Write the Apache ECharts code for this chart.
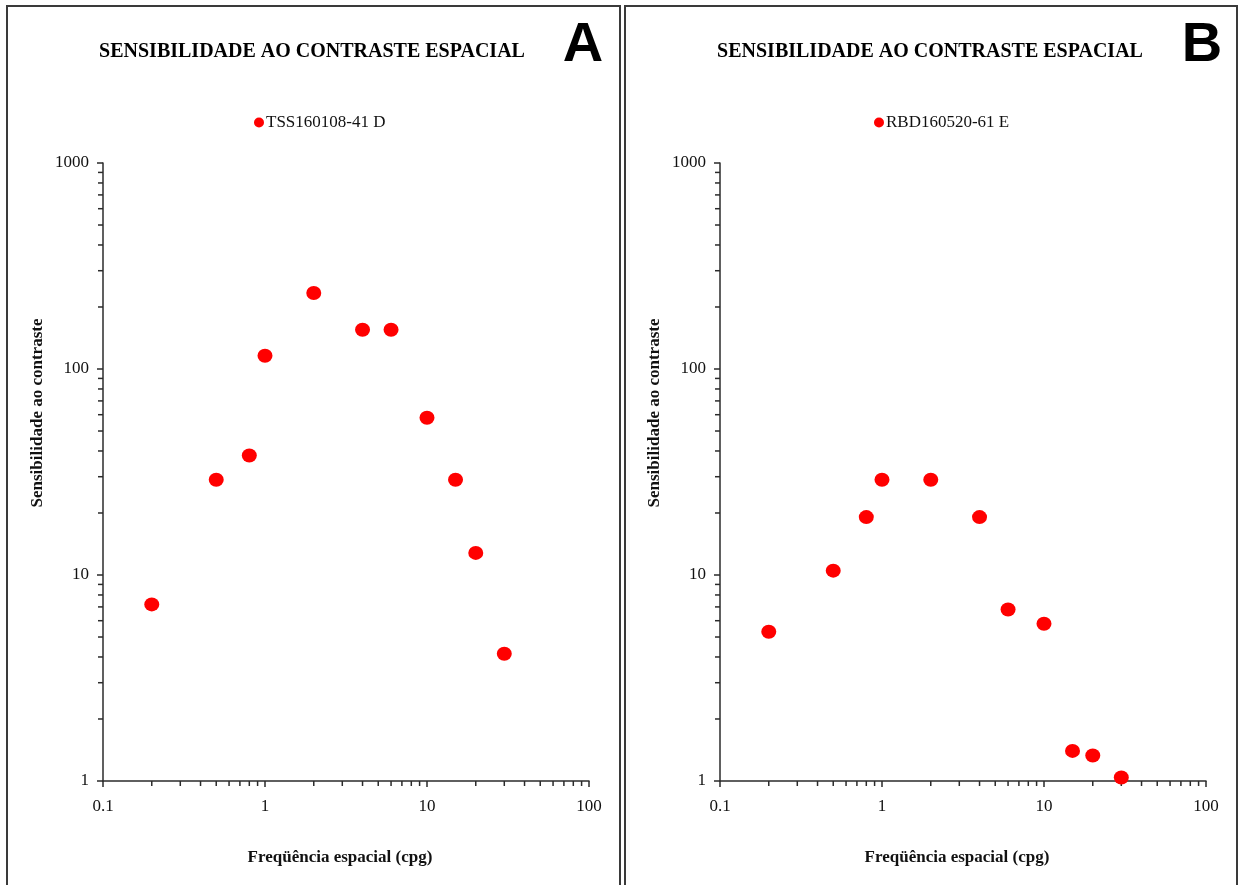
<!DOCTYPE html>
<html><head><meta charset="utf-8">
<script src="https://cdn.jsdelivr.net/npm/echarts@6/dist/echarts.min.js"></script>
<style>html,body{margin:0;padding:0;background:#fff}#c{width:1240px;height:885px}</style>
</head><body><div id="c"></div>
<script>
// ---- data ----
const titleText = 'SENSIBILIDADE AO CONTRASTE ESPACIAL';
const seriesNames = ['TSS160108-41 D', 'RBD160520-61 E'];
const panelLetters = ['A', 'B'];
const freqA = [0.2, 0.5, 0.8, 1, 2, 4, 6, 10, 15, 20, 30];
const sensA = [7.2, 29, 38, 116, 234, 155, 155, 58, 29, 12.8, 4.15];
const freqB = [0.2, 0.5, 0.8, 1, 2, 4, 6, 10, 15, 20, 30];
const sensB = [5.3, 10.5, 19.1, 29, 29, 19.1, 6.8, 5.8, 1.4, 1.33, 1.04];
const xName = 'Freqüência espacial (cpg)';
const yName = 'Sensibilidade ao contraste';
const xMinorTicks = [0.2,0.3,0.4,0.5,0.6,0.7,0.8,0.9,2,3,4,5,6,7,8,9,20,30,40,50,60,70,80,90];
const yMinorTicks = [2,3,4,5,6,7,8,9,20,30,40,50,60,70,80,90,200,300,400,500,600,700,800,900];

// ---- layout ----
const grids = [
  {left: 103, right: 651, top: 163, bottom: 104},
  {left: 720, right: 34, top: 163, bottom: 104}
];
const SERIF = '"Liberation Serif", "Times New Roman", serif';
const AX = '#2b2b2b';

const chart = echarts.init(document.getElementById('c'), null, {renderer: 'canvas'});

function fmt(v) { return String(+v.toPrecision(6)); }

function xAxisDef(i) {
  return {
    gridIndex: i, type: 'log', logBase: 10, min: 0.1, max: 100,
    axisLine: {show: true, lineStyle: {color: AX, width: 1.5}},
    axisTick: {show: true, inside: false, length: 6, lineStyle: {color: AX, width: 1.5}},
    axisLabel: {fontFamily: SERIF, fontSize: 17, color: '#111', margin: 17, formatter: fmt},
    splitLine: {show: false},
    name: xName, nameLocation: 'middle', nameGap: 68,
    nameTextStyle: {fontFamily: SERIF, fontWeight: 'bold', fontSize: 17, color: '#111', padding: [0, 12, 0, 0]}
  };
}
function yAxisDef(i) {
  return {
    gridIndex: i, type: 'log', logBase: 10, min: 1, max: 1000,
    axisLine: {show: true, lineStyle: {color: AX, width: 1.5}},
    axisTick: {show: true, inside: false, length: 6, lineStyle: {color: AX, width: 1.5}},
    axisLabel: {fontFamily: SERIF, fontSize: 17, color: '#111', margin: 14, formatter: fmt},
    splitLine: {show: false}
  };
}
function minorSeries(i, axis, values) {
  return {
    type: 'custom', xAxisIndex: i, yAxisIndex: i, silent: true, clip: false, z: 5,
    data: values.map(v => axis === 'x' ? [v, 1] : [0.1, v]),
    renderItem: function (params, api) {
      const p = api.coord([api.value(0), api.value(1)]);
      const shape = axis === 'x'
        ? {x1: p[0], y1: p[1], x2: p[0], y2: p[1] + 5}
        : {x1: p[0] - 5, y1: p[1], x2: p[0], y2: p[1]};
      return {type: 'line', shape: shape, style: {stroke: AX, lineWidth: 1.5}};
    }
  };
}
function scatter(i, xs, ys) {
  return {
    type: 'scatter', name: seriesNames[i], xAxisIndex: i, yAxisIndex: i,
    data: xs.map((x, k) => [x, ys[k]]),
    symbol: 'circle', symbolSize: [15, 14],
    itemStyle: {color: '#ff0000', opacity: 1}, z: 10
  };
}
const centers = [312, 930];
const legendLefts = [254, 874];
const graphics = [];
[[7, 613], [625, 612]].forEach(function (r) {
  graphics.push({type: 'rect', shape: {x: r[0], y: 6, width: r[1], height: 900},
    style: {fill: 'none', stroke: '#3a3a3a', lineWidth: 2}, silent: true});
});
centers.forEach(function (cx, i) {
  graphics.push({type: 'text', x: cx, y: 52, style: {text: titleText,
    font: 'bold 20px ' + SERIF, fill: '#000', align: 'center', verticalAlign: 'middle',
    textAlign: 'center', textVerticalAlign: 'middle'}});
  graphics.push({type: 'text', x: i === 0 ? 583 : 1202, y: 46, style: {text: panelLetters[i],
    font: 'bold 56px "Liberation Sans", Arial, sans-serif', fill: '#000', align: 'center', verticalAlign: 'middle',
    textAlign: 'center', textVerticalAlign: 'middle'}});
  graphics.push({type: 'text', x: i === 0 ? 38 : 655, y: 413, rotation: Math.PI / 2, style: {text: yName,
    font: 'bold 17px ' + SERIF, fill: '#111', align: 'center', verticalAlign: 'middle',
    textAlign: 'center', textVerticalAlign: 'middle'}});
});

chart.setOption({
  animation: false,
  backgroundColor: '#fff',
  grid: grids,
  xAxis: [xAxisDef(0), xAxisDef(1)],
  yAxis: [yAxisDef(0), yAxisDef(1)],
  legend: [0, 1].map(i => ({
    data: [seriesNames[i]], left: legendLefts[i], top: 114, icon: 'circle',
    itemWidth: 10, itemHeight: 10, itemGap: 2, padding: 0,
    itemStyle: {opacity: 1},
    textStyle: {fontFamily: SERIF, fontSize: 17, color: '#111', padding: [0, 0, 0, -3]}
  })),
  series: [
    scatter(0, freqA, sensA), scatter(1, freqB, sensB),
    minorSeries(0, 'x', xMinorTicks), minorSeries(0, 'y', yMinorTicks),
    minorSeries(1, 'x', xMinorTicks), minorSeries(1, 'y', yMinorTicks)
  ],
  graphic: graphics
});
</script>
</body></html>
